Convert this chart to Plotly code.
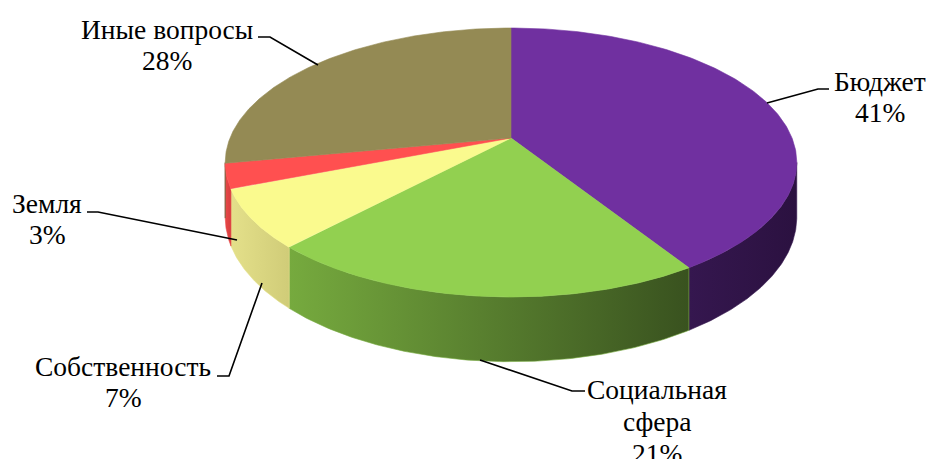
import numpy as np
import plotly.graph_objects as go

# ---- data ----
labels = ["Бюджет", "Социальная сфера", "Собственность", "Земля", "Иные вопросы"]
values = [41, 21, 7, 3, 28]
label_lines = [["Бюджет"], ["Социальная", "сфера"], ["Собственность"], ["Земля"], ["Иные вопросы"]]

# ---- style ----
top_colors = ["#7030A0", "#92D050", "#FAFA8E", "#FF5050", "#948A54"]
wall_colors = [("#35174F", "#2B1140"), ("#76AA3E", "#39521F"),
               ("#E4E08A", "#D0CC78"), ("#E84848", "#D63E3E"), ("#6E653C", "#5E5632")]
FONT = "Liberation Serif"
FS = 27.5

# label layout: (center x, first line y, line spacing), leader path
label_pos = [(880, 81, 31), (657, 389, 32), (123, 366, 31), (47, 203, 31), (167, 29, 31)]
leaders = [
    [(829, 89), (818, 89), (767, 103)],
    [(585, 391), (572, 391), (480, 360)],
    [(217, 376), (229, 376), (262, 283)],
    [(87, 212), (98, 212), (237, 240)],
    [(258, 37), (270, 37), (318, 65)],
]

# ---- pseudo-3D projection (perspective tilted disc) ----
CX, CY, A, B, K, D = 511, 138, 281, 130, 0.182, 53


def proj(theta, depth=0.0):
    f = 1.0 / (1.0 + K * np.cos(theta))
    x = CX + A * np.sin(theta) * f
    y = CY - B * np.cos(theta) * f + D * f * depth
    return x, y


total = sum(values)
bounds = np.concatenate([[0], np.cumsum(values)]) / total * 2 * np.pi
sil = np.arccos(-K)              # right silhouette angle
front_lo, front_hi = sil, 2 * np.pi - sil

fig = go.Figure()

# walls (front-facing only)
for i in range(len(values)):
    a0, a1 = max(bounds[i], front_lo), min(bounds[i + 1], front_hi)
    if a1 <= a0:
        continue
    th = np.linspace(a0, a1, 120)
    xt, yt = proj(th, 0)
    xb, yb = proj(th[::-1], 1)
    xs = np.concatenate([xt, xb, xt[:1]])
    ys = np.concatenate([yt, yb, yt[:1]])
    c1, c2 = wall_colors[i]
    fig.add_trace(go.Scatter(
        x=xs, y=ys, mode="lines", fill="toself",
        line=dict(width=0.6, color=c1),
        fillgradient=dict(type="horizontal", colorscale=[[0, c1], [1, c2]]),
        hoverinfo="skip", showlegend=False))

# top faces
for i in range(len(values)):
    th = np.linspace(bounds[i], bounds[i + 1], 200)
    xa, ya = proj(th, 0)
    xs = np.concatenate([[CX], xa, [CX]])
    ys = np.concatenate([[CY], ya, [CY]])
    fig.add_trace(go.Scatter(
        x=xs, y=ys, mode="lines", fill="toself", fillcolor=top_colors[i],
        line=dict(width=0.6, color=top_colors[i]),
        hoverinfo="skip", showlegend=False))

# leader lines
for path in leaders:
    fig.add_trace(go.Scatter(
        x=[p[0] for p in path], y=[p[1] for p in path], mode="lines",
        line=dict(color="black", width=1.6), hoverinfo="skip", showlegend=False))

# labels
annotations = []
for i in range(len(values)):
    cx, y0, dy = label_pos[i]
    lines = label_lines[i] + [f"{values[i]}%"]
    for j, t in enumerate(lines):
        annotations.append(dict(
            x=cx, y=y0 + j * dy, xref="x", yref="y", text=t, showarrow=False,
            xanchor="center", yanchor="middle",
            font=dict(family=FONT, size=FS, color="black")))

fig.update_layout(
    width=933, height=459, margin=dict(l=0, r=0, t=0, b=0),
    paper_bgcolor="white", plot_bgcolor="white",
    font=dict(family=FONT, size=FS, color="black"),
    xaxis=dict(range=[0, 933], visible=False, fixedrange=True),
    yaxis=dict(range=[459, 0], visible=False, fixedrange=True),
    annotations=annotations, showlegend=False,
)

fig.write_html("out.html", config={"displayModeBar": False},
               post_script="document.body.style.margin='0';document.body.style.overflow='hidden';")
